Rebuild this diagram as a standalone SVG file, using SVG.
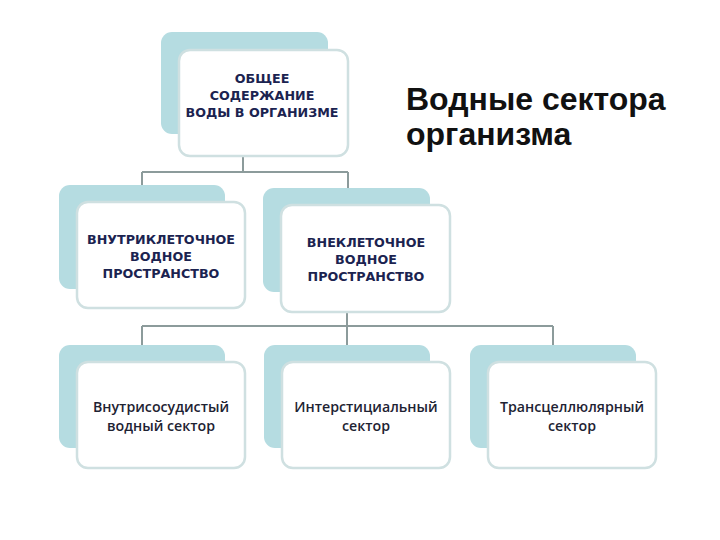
<svg xmlns="http://www.w3.org/2000/svg" width="720" height="540" viewBox="0 0 720 540">
<style>
.back{fill:#b5dce1;}
.front{fill:#ffffff;stroke:#cfe0e1;stroke-width:2.5;}
.cap{font-family:"DejaVu Sans",Verdana,sans-serif;font-weight:bold;font-size:12.7px;fill:#1b2350;text-anchor:middle;}
.low{font-family:"Open Sans","Noto Sans",sans-serif;font-weight:600;font-size:14.2px;fill:#1e2333;text-anchor:middle;}
.title{font-family:"Liberation Sans",Arial,sans-serif;font-weight:bold;font-size:32px;fill:#111111;}
.conn{fill:none;stroke:#8c9b9b;stroke-width:2;}
</style>
<rect width="720" height="540" fill="#ffffff"/>
<g id="connectors">
<path class="conn" d="M243,157 V172 M142,172 H348 M142,172 V186 M348,172 V189"/>
<path class="conn" d="M347,312 V345 M142,326 H553 M142,326 V345 M553,326 V345"/>
</g>
<g id="node-total">
<rect class="back" x="161" y="32" width="167" height="102" rx="11"/>
<rect class="front" x="179" y="50" width="169" height="106" rx="11"/>
<text class="cap" x="262" y="83">ОБЩЕЕ</text>
<text class="cap" x="262" y="100">СОДЕРЖАНИЕ</text>
<text class="cap" x="262" y="117">ВОДЫ В ОРГАНИЗМЕ</text>
</g>
<g id="node-intracellular">
<rect class="back" x="59" y="185" width="166" height="104" rx="11"/>
<rect class="front" x="77" y="202" width="168" height="106" rx="11"/>
<text class="cap" x="161" y="244">ВНУТРИКЛЕТОЧНОЕ</text>
<text class="cap" x="161" y="261">ВОДНОЕ</text>
<text class="cap" x="161" y="278">ПРОСТРАНСТВО</text>
</g>
<g id="node-extracellular">
<rect class="back" x="263" y="188" width="167" height="104" rx="11"/>
<rect class="front" x="281" y="205" width="169" height="107" rx="11"/>
<text class="cap" x="366" y="247">ВНЕКЛЕТОЧНОЕ</text>
<text class="cap" x="366" y="264">ВОДНОЕ</text>
<text class="cap" x="366" y="281">ПРОСТРАНСТВО</text>
</g>
<g id="node-intravascular">
<rect class="back" x="59" y="345" width="166" height="103" rx="11"/>
<rect class="front" x="77" y="362" width="168" height="106" rx="11"/>
<text class="low" x="161" y="412">Внутрисосудистый</text>
<text class="low" x="161" y="431">водный сектор</text>
</g>
<g id="node-interstitial">
<rect class="back" x="264" y="345" width="166" height="103" rx="11"/>
<rect class="front" x="282" y="362" width="168" height="106" rx="11"/>
<text class="low" x="366" y="412">Интерстициальный</text>
<text class="low" x="366" y="431">сектор</text>
</g>
<g id="node-transcellular">
<rect class="back" x="470" y="345" width="166" height="103" rx="11"/>
<rect class="front" x="488" y="362" width="168" height="106" rx="11"/>
<text class="low" x="572" y="412">Трансцеллюлярный</text>
<text class="low" x="572" y="431">сектор</text>
</g>
<g id="title">
<text class="title" x="406" y="110">Водные сектора</text>
<text class="title" x="406" y="145">организма</text>
</g>
</svg>
